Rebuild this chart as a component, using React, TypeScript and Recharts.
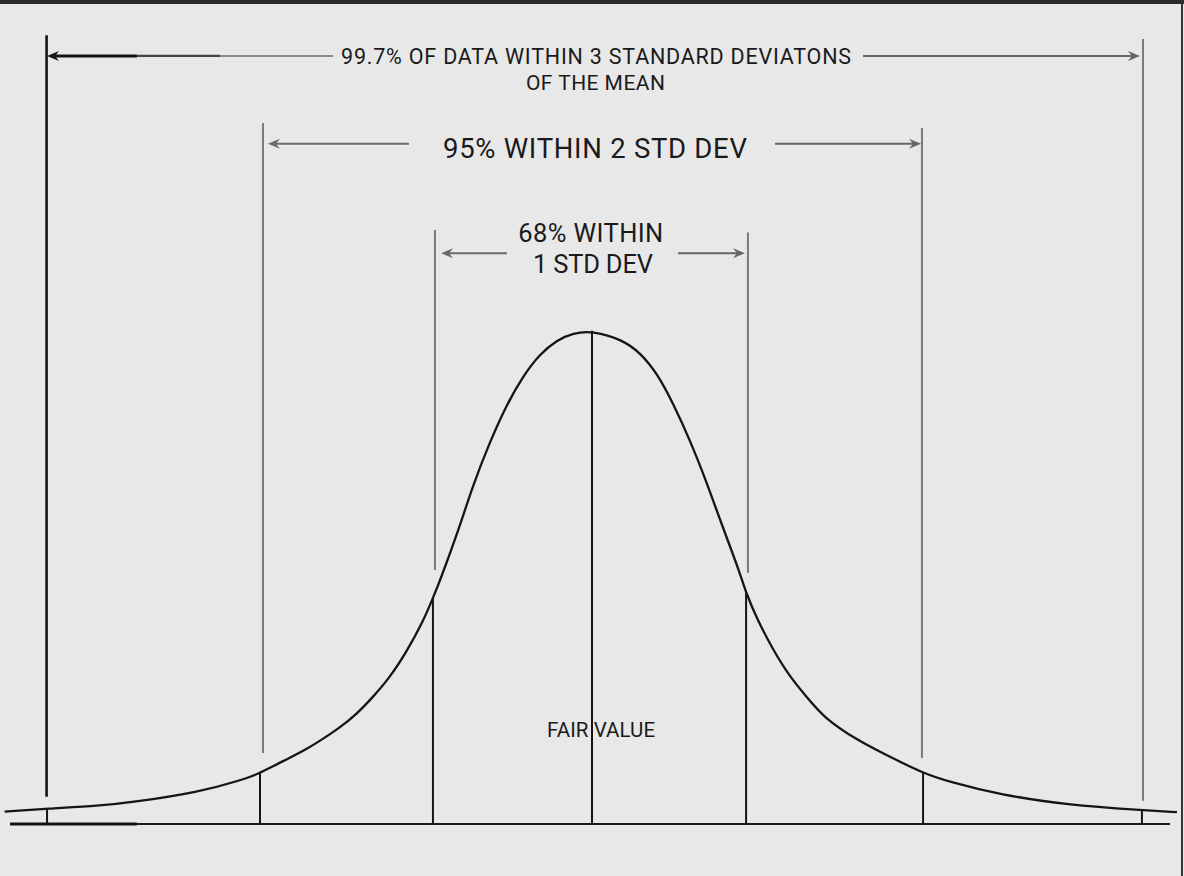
import { LineChart, Line, XAxis, YAxis, ReferenceLine, ReferenceDot } from 'recharts';

// bell curve: x in std devs from the mean, y relative to the peak
const CURVE_X = [
  -3.77, -3.498, -3.16, -2.95, -2.52, -2.26, -2.131, -2.05, -1.94, -1.83, -1.73, -1.62, -1.51,
  -1.41, -1.3, -1.19, -1.085, -1.021, -0.976, -0.867, -0.764, -0.655, -0.546, -0.443, -0.334,
  -0.225, -0.122, 0, 0.2, 0.31, 0.417, 0.52, 0.629, 0.738, 0.841, 0.95, 0.989, 1.059, 1.162,
  1.271, 1.38, 1.483, 1.7, 1.913, 2.125, 2.298, 2.62, 3.05, 3.53, 3.755,
];
const CURVE_Y = [
  0.025, 0.031, 0.037, 0.044, 0.065, 0.088, 0.103, 0.117, 0.134, 0.152, 0.172, 0.195, 0.223,
  0.256, 0.296, 0.349, 0.41, 0.458, 0.493, 0.586, 0.687, 0.775, 0.851, 0.908, 0.953,
  0.981, 0.995, 1.0, 0.981, 0.955, 0.914, 0.853, 0.778, 0.691, 0.6, 0.509, 0.468, 0.416, 0.353,
  0.298, 0.257, 0.217, 0.17, 0.136, 0.103, 0.085, 0.059, 0.039, 0.028, 0.024,
];

// cuts where the curve is dropped down to the baseline
const MARK_X = [-3.498, -2.131, -1.021, 0, 0.989, 2.125, 3.53];

// tall guide lines standing over the cuts
const GUIDE_X = [-3.501, -2.112, -1.008, 1.001, 2.118, 3.537];
const GUIDE_TOP = [1.599, 1.421, 1.204, 1.199, 1.411, 1.591];
const GUIDE_BOTTOM = [0.055, 0.144, 0.515, 0.509, 0.134, 0.047];

// the three span arrows: height, where the shafts start, where the tips are
const ARROW_Y = [1.557, 1.379, 1.157];
const ARROW_TAIL_L = [-1.6625, -1.175, -0.546];
const ARROW_TAIL_R = [1.7395, 1.175, 0.552];
const ARROW_TIP_L = [-3.498, -2.08, -0.969];
const ARROW_TIP_R = [3.5175, 2.112, 0.982];

const LABELS = [
  '99.7% OF DATA WITHIN 3 STANDARD DEVIATONS',
  'OF THE MEAN',
  '95% WITHIN 2 STD DEV',
  '68% WITHIN',
  '1 STD DEV',
  'FAIR VALUE',
];
// label baselines in chart units
const LABEL_X = [0.026, 0.022, 0.019, -0.008, 0.006, 0.058];
const LABEL_Y = [1.5406, 1.4878, 1.35, 1.1804, 1.1175, 0.177];

const data = CURVE_X.map((x, i) => ({ x, y: CURVE_Y[i] }));
const curveAt = (x: number) => CURVE_Y[CURVE_X.indexOf(x)];

const INK = '#151515';
const GREY = '#7a7a7a';

const labelStyle = [
  { size: 21.5, width: 510 },
  { size: 21, width: 139 },
  { size: 27.5, width: 304 },
  { size: 25.5, width: 145 },
  { size: 25.5, width: 120 },
  { size: 20.5, width: 108 },
];

function Arrow(props: any) {
  const { x1, y1, x2, y2, stroke, strokeWidth } = props;
  const dir = x2 > x1 ? 1 : -1;
  const len = 12;
  const half = 5;
  return (
    <g>
      <line x1={x1} y1={y1} x2={x2 - dir * 5} y2={y2} stroke={stroke} strokeWidth={strokeWidth} />
      <path
        d={`M${x2},${y2} L${x2 - dir * len},${y2 - half} L${x2 - dir * (len - 4)},${y2} L${x2 - dir * len},${y2 + half} Z`}
        fill={stroke}
      />
    </g>
  );
}

function Seg({ x1, x2, y1, y2, color, w }: any) {
  return (
    <ReferenceLine
      segment={[{ x: x1, y: y1 }, { x: x2, y: y2 }]}
      stroke={color}
      strokeWidth={w}
      ifOverflow="visible"
    />
  );
}

export default function App() {
  return (
    <div
      style={{
        position: 'absolute', left: 0, top: 0, width: 1184, height: 876,
        background: '#e8e8e8', overflow: 'hidden',
      }}
    >
      <LineChart width={1184} height={876} data={data} margin={{ top: 10, right: 0, bottom: 52, left: 0 }}>
        <XAxis dataKey="x" type="number" domain={[-3.8, 3.8]} hide allowDataOverflow />
        <YAxis type="number" domain={[0, 1.65]} hide allowDataOverflow />

        {/* baseline */}
        {Seg({ x1: -3.7357, x2: -2.921, y1: 0, y2: 0, color: INK, w: 3.2 })}
        {Seg({ x1: -2.921, x2: 3.7101, y1: 0, y2: 0, color: '#1c1c1c', w: 2 })}

        {/* guides above the cuts */}
        {GUIDE_X.map((x, i) => (
          <ReferenceLine
            key={`g${i}`}
            segment={[{ x, y: GUIDE_BOTTOM[i] }, { x, y: GUIDE_TOP[i] }]}
            stroke={i === 0 ? INK : GREY}
            strokeWidth={i === 0 ? 2.6 : 2}
            ifOverflow="visible"
          />
        ))}

        {/* drops from the curve to the baseline */}
        {MARK_X.map((x, i) => (
          <ReferenceLine
            key={`m${i}`}
            segment={[{ x, y: 0 }, { x, y: curveAt(x) }]}
            stroke={INK}
            strokeWidth={2}
            ifOverflow="visible"
          />
        ))}

        {/* span arrows */}
        {ARROW_Y.map((y, i) => (
          <ReferenceLine
            key={`al${i}`}
            segment={[{ x: i === 0 ? -2.921 : ARROW_TAIL_L[i], y }, { x: ARROW_TIP_L[i], y }]}
            stroke={i === 0 ? INK : '#6a6a6a'}
            strokeWidth={i === 0 ? 3 : 2}
            shape={Arrow}
            ifOverflow="visible"
          />
        ))}
        {Seg({ x1: -2.921, x2: -2.388, y1: ARROW_Y[0], y2: ARROW_Y[0], color: '#444', w: 2.4 })}
        {Seg({ x1: -2.388, x2: ARROW_TAIL_L[0], y1: ARROW_Y[0], y2: ARROW_Y[0], color: '#8a8a8a', w: 2 })}
        {ARROW_Y.map((y, i) => (
          <ReferenceLine
            key={`ar${i}`}
            segment={[{ x: ARROW_TAIL_R[i], y }, { x: ARROW_TIP_R[i], y }]}
            stroke="#666"
            strokeWidth={2}
            shape={Arrow}
            ifOverflow="visible"
          />
        ))}

        <Line
          dataKey="y"
          type="basis"
          stroke={INK}
          strokeWidth={2.3}
          dot={false}
          activeDot={false}
          isAnimationActive={false}
        />

        {LABELS.map((t, i) => (
          <ReferenceDot
            key={`t${i}`}
            x={LABEL_X[i]}
            y={LABEL_Y[i]}
            r={0}
            ifOverflow="visible"
            shape={(p: any) => (
              <text
                x={p.cx}
                y={p.cy}
                textAnchor="middle"
                fontFamily="Roboto, sans-serif"
                fontSize={labelStyle[i].size}
                textLength={labelStyle[i].width}
                fill="#1a1a1a"
              >
                {t}
              </text>
            )}
          />
        ))}
      </LineChart>
      <div style={{ position: 'absolute', left: 0, top: 0, width: 1184, height: 4, background: '#2b2b2b' }} />
      <div style={{ position: 'absolute', left: 1181, top: 0, width: 2, height: 876, background: '#333' }} />
    </div>
  );
}
